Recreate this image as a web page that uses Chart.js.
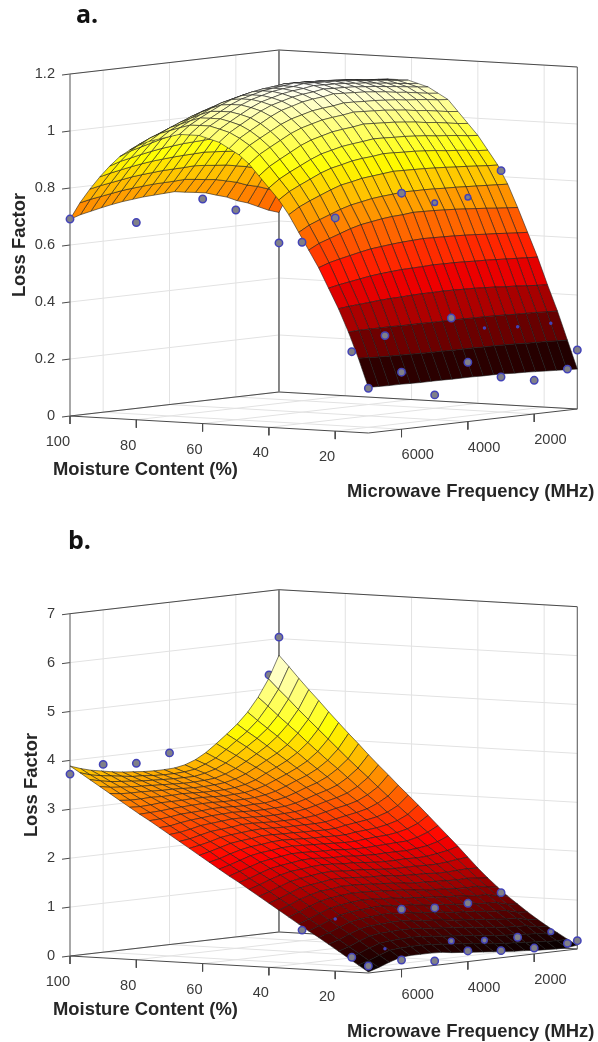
<!DOCTYPE html>
<html>
<head>
<meta charset="utf-8">
<title>Loss factor surfaces</title>
<script src="https://cdn.jsdelivr.net/npm/chart.js@4"></script>
<style>
  html, body { margin: 0; background: #fff; }
  canvas { position: absolute; left: 0; }
</style>
</head>
<body>
<canvas id="panelA" width="598" height="520" style="top:0"></canvas>
<canvas id="panelB" width="598" height="522" style="top:520px"></canvas>
<script>
var MOISTURE = [10,13,16,19,22,25,28,31,34,37,40,43,46,49,52,55,58,61,64,67,70,73,76,79,82,85,88,91,94,97,100];
var FREQ = [7000,6685,6370,6055,5740,5425,5110,4795,4480,4165,3850,3535,3220,2905,2590,2275,1960,1645,1330,1015,700];
var MOISTURE_TICKS = [100,80,60,40,20];
var FREQ_TICKS = [6000,4000,2000];
var A_LOSS_TICKS = [0,0.2,0.4,0.6,0.8,1,1.2];
var B_LOSS_TICKS = [0,1,2,3,4,5,6,7];

// one row per frequency, one column per moisture
var A_LOSS = [
  [.16,.26,.35,.43,.50,.57,.63,.69,.75,.80,.84,.88,.92,.95,.97,.99,1.0,1.01,1.01,1.01,1.0,.99,.98,.965,.945,.92,.885,.845,.80,.75,.69],
  [.159,.258,.352,.434,.508,.583,.649,.711,.773,.825,.867,.909,.949,.979,1.002,1.02,1.03,1.039,1.039,1.038,1.027,1.015,1.003,.985,.963,.935,.897,.854,.808,.758,.702],
  [.158,.256,.352,.437,.514,.592,.662,.726,.79,.843,.887,.93,.97,1.0,1.024,1.042,1.052,1.06,1.06,1.059,1.047,1.033,1.02,.999,.976,.945,.905,.861,.814,.764,.71],
  [.158,.255,.352,.44,.52,.60,.675,.74,.805,.86,.905,.95,.99,1.02,1.045,1.063,1.073,1.08,1.08,1.078,1.065,1.05,1.035,1.013,.988,.955,.913,.868,.82,.77,.718],
  [.157,.254,.352,.443,.526,.608,.688,.754,.82,.877,.923,.97,1.01,1.04,1.066,1.083,1.093,1.1,1.1,1.096,1.083,1.067,1.05,1.026,1.0,.965,.92,.874,.826,.776,.725],
  [.156,.253,.351,.445,.53,.615,.698,.765,.833,.89,.938,.985,1.025,1.055,1.083,1.099,1.109,1.115,1.115,1.111,1.098,1.08,1.063,1.036,1.009,.973,.926,.879,.83,.78,.731],
  [.156,.252,.351,.446,.533,.619,.704,.772,.84,.898,.947,.995,1.035,1.065,1.093,1.109,1.119,1.125,1.125,1.121,1.107,1.088,1.07,1.043,1.015,.977,.93,.882,.833,.783,.735],
  [.156,.251,.351,.448,.536,.623,.71,.779,.848,.907,.956,1.005,1.045,1.075,1.104,1.119,1.129,1.135,1.135,1.13,1.116,1.097,1.078,1.05,1.021,.982,.934,.885,.836,.786,.739],
  [.155,.251,.35,.449,.537,.626,.714,.783,.852,.912,.961,1.01,1.05,1.08,1.11,1.125,1.135,1.14,1.14,1.136,1.121,1.102,1.082,1.053,1.024,.985,.936,.887,.837,.787,.741],
  [.155,.25,.35,.449,.538,.628,.716,.786,.856,.915,.965,1.014,1.054,1.084,1.114,1.129,1.139,1.144,1.144,1.14,1.125,1.105,1.086,1.056,1.027,.987,.938,.888,.838,.788,.743],
  [.155,.25,.35,.45,.54,.63,.72,.79,.86,.92,.97,1.02,1.06,1.09,1.12,1.135,1.145,1.15,1.15,1.145,1.13,1.11,1.09,1.06,1.03,.99,.94,.89,.84,.79,.745],
  [.154,.25,.35,.449,.539,.629,.719,.789,.859,.919,.969,1.018,1.058,1.089,1.118,1.133,1.143,1.149,1.149,1.144,1.129,1.109,1.089,1.059,1.029,.988,.938,.887,.837,.786,.739],
  [.154,.249,.349,.448,.539,.628,.718,.789,.858,.917,.967,1.016,1.056,1.087,1.116,1.132,1.142,1.147,1.147,1.143,1.128,1.108,1.088,1.058,1.027,.986,.935,.884,.833,.781,.734],
  [.153,.249,.349,.447,.538,.627,.716,.788,.857,.916,.966,1.014,1.054,1.086,1.114,1.13,1.14,1.146,1.146,1.141,1.127,1.107,1.087,1.057,1.026,.984,.933,.881,.83,.777,.728],
  [.151,.248,.348,.445,.536,.625,.714,.786,.855,.913,.963,1.01,1.05,1.083,1.11,1.126,1.136,1.143,1.143,1.139,1.125,1.105,1.085,1.055,1.023,.98,.928,.875,.823,.768,.716],
  [.15,.247,.347,.443,.535,.623,.711,.785,.853,.91,.96,1.006,1.046,1.08,1.106,1.123,1.133,1.14,1.14,1.136,1.123,1.103,1.083,1.053,1.02,.976,.923,.869,.816,.759,.705],
  [.148,.245,.345,.44,.533,.62,.708,.783,.85,.905,.955,1.0,1.04,1.075,1.1,1.118,1.128,1.135,1.135,1.133,1.12,1.1,1.08,1.05,1.015,.97,.915,.86,.805,.745,.688],
  [.146,.244,.344,.438,.531,.618,.705,.781,.848,.902,.952,.996,1.036,1.072,1.096,1.114,1.124,1.132,1.132,1.13,1.118,1.098,1.078,1.048,1.012,.966,.91,.854,.798,.736,.676],
  [.144,.243,.343,.435,.529,.615,.701,.779,.845,.898,.948,.99,1.03,1.068,1.09,1.109,1.119,1.128,1.128,1.126,1.115,1.095,1.075,1.045,1.008,.96,.903,.845,.788,.723,.659],
  [.142,.241,.341,.432,.527,.612,.698,.777,.842,.893,.943,.984,1.024,1.063,1.084,1.104,1.114,1.123,1.123,1.123,1.112,1.092,1.072,1.042,1.003,.954,.895,.836,.777,.709,.642],
  [.14,.24,.34,.43,.525,.61,.695,.775,.84,.89,.94,.98,1.02,1.06,1.08,1.1,1.11,1.12,1.12,1.12,1.11,1.09,1.07,1.04,1.0,.95,.89,.83,.77,.70,.63]
];
var B_LOSS = [
  [.02,.15,.28,.41,.54,.67,.79,.92,1.05,1.18,1.31,1.44,1.57,1.70,1.82,1.95,2.08,2.21,2.34,2.47,2.60,2.73,2.86,2.98,3.11,3.24,3.37,3.50,3.63,3.76,3.885],
  [.09,.22,.35,.48,.61,.74,.87,1.0,1.13,1.26,1.38,1.51,1.64,1.76,1.89,2.01,2.13,2.26,2.38,2.50,2.62,2.74,2.87,2.99,3.10,3.22,3.34,3.46,3.58,3.69,3.81],
  [.17,.30,.44,.57,.70,.83,.96,1.09,1.22,1.35,1.47,1.59,1.72,1.84,1.96,2.08,2.20,2.32,2.43,2.55,2.66,2.78,2.89,3.0,3.11,3.22,3.33,3.44,3.54,3.65,3.75],
  [.24,.38,.51,.65,.78,.91,1.04,1.17,1.30,1.42,1.55,1.67,1.79,1.91,2.03,2.15,2.26,2.38,2.49,2.60,2.71,2.81,2.92,3.02,3.13,3.23,3.33,3.42,3.52,3.62,3.71],
  [.26,.40,.54,.68,.82,.95,1.08,1.21,1.34,1.47,1.59,1.71,1.84,1.95,2.07,2.19,2.30,2.41,2.52,2.62,2.73,2.83,2.93,3.03,3.13,3.22,3.32,3.41,3.50,3.59,3.67],
  [.26,.41,.55,.69,.83,.97,1.10,1.24,1.37,1.49,1.62,1.74,1.86,1.98,2.10,2.21,2.32,2.43,2.54,2.64,2.75,2.85,2.94,3.04,3.13,3.22,3.31,3.40,3.48,3.56,3.64],
  [.26,.41,.56,.70,.85,.99,1.12,1.26,1.39,1.52,1.65,1.77,1.89,2.01,2.13,2.24,2.35,2.46,2.56,2.67,2.77,2.86,2.96,3.05,3.14,3.23,3.31,3.39,3.47,3.55,3.62],
  [.25,.40,.55,.70,.85,.99,1.13,1.26,1.39,1.52,1.65,1.78,1.90,2.02,2.13,2.25,2.36,2.46,2.57,2.67,2.77,2.87,2.96,3.05,3.14,3.22,3.30,3.38,3.46,3.53,3.60],
  [.22,.38,.53,.68,.82,.97,1.11,1.24,1.38,1.51,1.64,1.76,1.89,2.0,2.12,2.24,2.35,2.45,2.56,2.66,2.76,2.86,2.95,3.04,3.13,3.21,3.29,3.37,3.45,3.52,3.59],
  [.20,.36,.51,.66,.80,.95,1.09,1.23,1.36,1.49,1.62,1.75,1.87,1.99,2.11,2.23,2.34,2.45,2.55,2.65,2.75,2.85,2.94,3.04,3.12,3.21,3.29,3.37,3.45,3.52,3.59],
  [.18,.34,.49,.64,.79,.93,1.08,1.21,1.35,1.48,1.61,1.74,1.87,1.99,2.11,2.22,2.33,2.44,2.55,2.65,2.75,2.85,2.95,3.04,3.13,3.21,3.30,3.38,3.45,3.53,3.60],
  [.16,.32,.47,.62,.77,.91,1.05,1.19,1.33,1.46,1.60,1.72,1.85,1.97,2.09,2.21,2.33,2.44,2.55,2.65,2.76,2.86,2.95,3.05,3.14,3.23,3.32,3.40,3.49,3.56,3.64],
  [.14,.29,.45,.60,.74,.89,1.03,1.17,1.31,1.44,1.57,1.70,1.83,1.96,2.08,2.20,2.32,2.43,2.55,2.66,2.77,2.87,2.98,3.08,3.18,3.27,3.37,3.46,3.55,3.64,3.72],
  [.12,.27,.42,.57,.72,.86,1.01,1.15,1.28,1.42,1.56,1.69,1.82,1.95,2.08,2.20,2.32,2.44,2.56,2.68,2.80,2.91,3.02,3.13,3.24,3.34,3.45,3.55,3.65,3.74,3.84],
  [.10,.25,.40,.55,.70,.85,.99,1.13,1.27,1.41,1.55,1.69,1.82,1.96,2.09,2.22,2.35,2.48,2.60,2.73,2.85,2.97,3.09,3.21,3.33,3.45,3.56,3.67,3.78,3.89,4.0],
  [.09,.24,.38,.53,.68,.83,.97,1.12,1.26,1.40,1.55,1.69,1.83,1.96,2.10,2.24,2.37,2.51,2.64,2.78,2.91,3.04,3.17,3.30,3.42,3.55,3.68,3.80,3.93,4.05,4.17],
  [.07,.22,.37,.51,.66,.81,.95,1.10,1.24,1.39,1.53,1.68,1.82,1.96,2.11,2.25,2.39,2.54,2.68,2.82,2.96,3.10,3.24,3.38,3.52,3.66,3.80,3.94,4.08,4.21,4.35],
  [.06,.21,.35,.50,.64,.79,.94,1.08,1.23,1.38,1.53,1.68,1.83,1.98,2.12,2.28,2.43,2.58,2.73,2.88,3.03,3.18,3.34,3.49,3.64,3.80,3.95,4.11,4.26,4.41,4.57],
  [.05,.19,.34,.49,.63,.78,.93,1.08,1.24,1.39,1.54,1.70,1.86,2.01,2.17,2.33,2.49,2.65,2.82,2.98,3.14,3.31,3.48,3.64,3.81,3.98,4.16,4.33,4.50,4.68,4.85],
  [.05,.18,.31,.44,.58,.72,.87,1.03,1.20,1.37,1.55,1.73,1.90,2.07,2.25,2.42,2.59,2.76,2.94,3.12,3.30,3.48,3.66,3.85,4.04,4.23,4.42,4.61,4.81,5.0,5.2],
  [.08,.19,.31,.43,.56,.70,.85,1.0,1.17,1.35,1.54,1.75,1.96,2.16,2.36,2.56,2.76,2.95,3.14,3.34,3.53,3.73,3.94,4.14,4.35,4.56,4.78,4.99,5.21,5.44,5.66]
];

// measured points as [moisture, frequency, loss]
var A_POINTS = [
  [10,7000,.157],[10,6000,.20],[10,5000,.107],[10,4000,.208],[10,3000,.143],[10,2000,.118],[10,1000,.144],[10,700,.207],
  [15,7000,.282],[15,6000,.325],[15,4000,.36],
  [30,7000,.656],[30,6000,.728],[30,4000,.788],[30,1000,.827],
  [100,7000,.691],[100,5000,.652],[100,3000,.708],[100,2000,.656],[100,700,.523]
];
var A_POINTS_HALF = [[30,3000,.741],[30,2000,.747]];
var A_POINTS_SLIVER = [[15,3000,.312],[15,2000,.303],[15,1000,.302]];
var A_POINTS_BEHIND = [];
var B_POINTS = [
  [10,7000,.143],[10,6000,.188],[10,5000,.09],[10,4000,.217],[10,3000,.145],[10,2000,.121],[10,1000,.139],[10,700,.17],
  [15,7000,.302],[15,2000,.321],
  [30,7000,.80],[30,4000,.992],[30,3000,.941],[30,2000,.959],[30,1000,1.098],
  [100,7000,3.72],[100,6000,3.84],[100,5000,3.785],[100,4000,3.92],[100,700,6.03]
];
var B_POINTS_HALF = [[15,4000,.40],[15,3000,.337],[15,1000,.358]];
var B_POINTS_SLIVER = [[30,6000,.949],[15,6000,.399]];
var B_POINTS_BEHIND = [[100,1000,5.28]];

var FONT = '"Liberation Sans", Arial, sans-serif';
var GRID = '#e2e2e2';
var EDGE = '#4a4a4a';

function hot(t) {
  var r = Math.min(1, t / 0.375);
  var g = Math.max(0, Math.min(1, (t - 0.375) / 0.375));
  var b = Math.max(0, Math.min(1, (t - 0.75) / 0.25));
  return 'rgb(' + Math.round(r * 255) + ',' + Math.round(g * 255) + ',' + Math.round(b * 255) + ')';
}

function drawPanel(id, p) {
  var canvas = document.getElementById(id);
  var H = canvas.height;
  var zTop = p.zTicks[p.zTicks.length - 1];

  function proj(m, f, z) {
    return {
      x: 70 + (100 - m) * 3.315 + (7000 - f) * 0.03317,
      y: p.oy + (100 - m) * 0.1889 - (7000 - f) * 0.00381 - z * p.zs
    };
  }
  function line(pts, color, width) {
    return { data: pts, showLine: true, borderColor: color, borderWidth: width, pointRadius: 0, fill: false, tension: 0 };
  }
  function markers(list, radius, fillColor) {
    return {
      data: list.map(function (q) { return proj(q[0], q[1], q[2]); }),
      showLine: false, pointRadius: radius, pointBorderWidth: 1.5,
      pointBackgroundColor: fillColor, pointBorderColor: '#4343b8'
    };
  }

  var datasets = [];
  datasets.push(markers(p.points, 3.7, '#808088'));
  datasets.push(markers(p.half, 2.8, '#808088'));
  datasets.push(markers(p.sliver, 1, '#4343b8'));

  // surface facets, nearest first since dataset 0 is painted last
  var zMin = Infinity, zMax = -Infinity;
  p.loss.forEach(function (row) {
    row.forEach(function (v) { zMin = Math.min(zMin, v); zMax = Math.max(zMax, v); });
  });
  for (var fi = 0; fi < FREQ.length - 1; fi++) {
    for (var mi = 0; mi < MOISTURE.length - 1; mi++) {
      var a = p.loss[fi][mi], b = p.loss[fi][mi + 1], c = p.loss[fi + 1][mi + 1], d = p.loss[fi + 1][mi];
      var first = proj(MOISTURE[mi], FREQ[fi], a);
      datasets.push({
        data: [first, proj(MOISTURE[mi + 1], FREQ[fi], b), proj(MOISTURE[mi + 1], FREQ[fi + 1], c), proj(MOISTURE[mi], FREQ[fi + 1], d), first],
        showLine: true, fill: 'shape', tension: 0, pointRadius: 0,
        backgroundColor: hot(((a + b + c + d) / 4 - zMin) / (zMax - zMin)),
        borderColor: 'rgba(25,25,25,.8)', borderWidth: 0.7
      });
    }
  }

  datasets.push(markers(p.behind, 3.7, '#808088'));

  // box edges and ticks
  datasets.push(line([proj(100, 7000, 0), proj(100, 7000, zTop)], '#6e6e6e', 1.2));
  datasets.push(line([proj(100, 700, 0), proj(100, 700, zTop)], '#7c7c7c', 1.8));
  datasets.push(line([proj(10, 700, 0), proj(10, 700, zTop)], '#6e6e6e', 1.2));
  datasets.push(line([proj(100, 7000, zTop), proj(100, 700, zTop), proj(10, 700, zTop)], EDGE, 1));
  datasets.push(line([proj(100, 7000, 0), proj(10, 7000, 0), proj(10, 700, 0), proj(100, 700, 0), proj(100, 7000, 0)], EDGE, 1));
  var tickDrop = 8 / p.zs;
  MOISTURE_TICKS.forEach(function (m) {
    datasets.push(line([proj(m, 7000, 0), proj(m, 7000, -tickDrop)], EDGE, 1));
  });
  FREQ_TICKS.forEach(function (f) {
    datasets.push(line([proj(10, f, 0), proj(10, f, -tickDrop)], EDGE, 1));
  });
  p.zTicks.forEach(function (z) {
    datasets.push(line([proj(100 + 8 / 3.315, 7000, z - 1.5 / p.zs), proj(100, 7000, z)], EDGE, 1));
  });

  // walls and floor
  p.zTicks.forEach(function (z) {
    datasets.push(line([proj(100, 7000, z), proj(100, 700, z), proj(10, 700, z)], GRID, 1));
  });
  FREQ_TICKS.forEach(function (f) {
    datasets.push(line([proj(100, f, 0), proj(100, f, zTop)], GRID, 1));
    datasets.push(line([proj(100, f, 0), proj(10, f, 0)], GRID, 1));
  });
  MOISTURE_TICKS.forEach(function (m) {
    datasets.push(line([proj(m, 700, 0), proj(m, 700, zTop)], GRID, 1));
    datasets.push(line([proj(m, 7000, 0), proj(m, 700, 0)], GRID, 1));
  });

  var texts = [];
  p.zTicks.forEach(function (z) {
    var q = proj(100, 7000, z);
    texts.push({ t: String(z), x: 55, y: q.y, align: 'right' });
  });
  MOISTURE_TICKS.forEach(function (m) {
    var q = proj(m, 7000, 0);
    texts.push({ t: String(m), x: q.x, y: q.y + 26, align: 'right' });
  });
  FREQ_TICKS.forEach(function (f) {
    var q = proj(10, f, 0);
    texts.push({ t: String(f), x: q.x, y: q.y + 26, align: 'left' });
  });

  var labelPlugin = {
    id: 'panelText',
    afterDatasetsDraw: function (chart) {
      var ctx = chart.ctx, sx = chart.scales.x, sy = chart.scales.y;
      ctx.save();
      ctx.textBaseline = 'middle';
      ctx.fillStyle = '#3a3a3a';
      ctx.font = '14.6px ' + FONT;
      texts.forEach(function (l) {
        ctx.textAlign = l.align;
        ctx.fillText(l.t, sx.getPixelForValue(l.x), sy.getPixelForValue(l.y));
      });
      ctx.fillStyle = '#262626';
      ctx.font = 'bold 18.4px ' + FONT;
      ctx.textAlign = 'left';
      ctx.fillText('Moisture Content (%)', 53, p.oy + 54);
      ctx.fillText('Microwave Frequency (MHz)', 347, p.oy + 76);
      ctx.save();
      ctx.translate(p.lossX, p.oy - 171);
      ctx.rotate(-Math.PI / 2);
      ctx.textAlign = 'center';
      ctx.fillText('Loss Factor', 0, 0);
      ctx.restore();
      ctx.fillStyle = '#111';
      ctx.font = 'bold 25px "Open Sans", sans-serif';
      ctx.textAlign = 'left';
      ctx.fillText(p.letter, p.letterX, p.letterY);
      ctx.restore();
    }
  };

  new Chart(canvas.getContext('2d'), {
    type: 'scatter',
    data: { datasets: datasets },
    plugins: [labelPlugin],
    options: {
      responsive: false, animation: false, events: [],
      layout: { padding: 0, autoPadding: false },
      plugins: { legend: { display: false }, tooltip: { enabled: false } },
      scales: {
        x: { type: 'linear', min: 0, max: 598, display: false },
        y: { type: 'linear', min: 0, max: H, reverse: true, display: false }
      }
    }
  });
}

drawPanel('panelA', {
  loss: A_LOSS, zTicks: A_LOSS_TICKS, oy: 416, zs: 285,
  points: A_POINTS, half: A_POINTS_HALF, sliver: A_POINTS_SLIVER, behind: A_POINTS_BEHIND,
  letter: 'a.', letterX: 76, letterY: 16, lossX: 20
});
drawPanel('panelB', {
  loss: B_LOSS, zTicks: B_LOSS_TICKS, oy: 436, zs: 48.9,
  points: B_POINTS, half: B_POINTS_HALF, sliver: B_POINTS_SLIVER, behind: B_POINTS_BEHIND,
  letter: 'b.', letterX: 68, letterY: 22, lossX: 32
});
</script>
</body>
</html>
